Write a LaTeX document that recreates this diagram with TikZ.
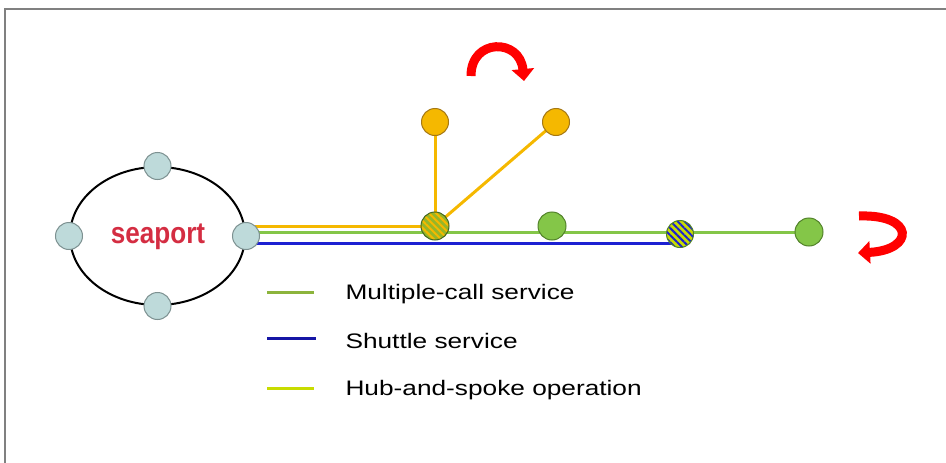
\documentclass[tikz,border=0pt]{standalone}
\usepackage{fontspec}
\setmainfont{Liberation Sans}
\usetikzlibrary{arrows.meta,patterns.meta,backgrounds,shapes.geometric}

\definecolor{portfill}{RGB}{190,218,218}
\definecolor{portedge}{RGB}{125,145,145}
\definecolor{amber}{RGB}{245,184,0}
\definecolor{amberedge}{RGB}{165,120,20}
\definecolor{leaf}{RGB}{132,198,72}
\definecolor{leafedge}{RGB}{82,130,42}
\definecolor{olive}{RGB}{150,182,40}
\definecolor{navy}{RGB}{28,32,210}
\definecolor{lime}{RGB}{200,220,0}
\definecolor{portred}{RGB}{212,45,66}
\definecolor{legendgreen}{RGB}{140,180,60}
\definecolor{legendblue}{RGB}{22,22,165}
\definecolor{framegray}{RGB}{128,128,128}

\begin{document}
\begin{tikzpicture}[x=1pt,y=-1pt,
  port/.style={circle,draw=portedge,line width=1pt,fill=portfill,
    minimum size=27pt,inner sep=0pt},
  stopnode/.style={circle,draw=leafedge,line width=1pt,fill=leaf,
    minimum size=28pt,inner sep=0pt},
  feeder/.style={circle,draw=amberedge,line width=1pt,fill=amber,
    minimum size=27pt,inner sep=0pt},
  stripes/.style={pattern={Lines[angle=-45,distance=5pt,line width=2pt]}},
  route/.style={line width=3pt},
  turn/.style={red,line width=9pt,-{Triangle[length=12pt,width=22pt]}},
  legtext/.style={anchor=base west,font=\fontsize{21}{24}\selectfont}]

\useasboundingbox (0,0) rectangle (946,463);

% frame
\draw[framegray,line width=2pt] (5,463) -- (5,9) -- (946,9);

% seaport with its four terminals
\node[ellipse,draw,line width=2pt,minimum width=175pt,minimum height=138pt,
  inner sep=0pt] (harbour) at (157.5,236) {};
\node[port] (pw) at (harbour.west) {};
\node[port] (pe) at (harbour.east) {};
\node[port] (pn) at (harbour.north) {};
\node[port] (ps) at (harbour.south) {};
\node[anchor=base,text=portred,font=\bfseries\fontsize{30}{32}\selectfont]
  (portname) at (158,243) {\scalebox{0.87}[1]{seaport}};

% ports of call
\node[circle,draw=leafedge!80!black,line width=1pt,minimum size=28pt,inner sep=0pt,
  preaction={fill=olive},stripes,pattern color=amber] (hub) at (435,226) {};
\node[stopnode] (g2) at (552,226) {};
\node[circle,draw=leafedge,line width=1pt,minimum size=27pt,inner sep=0pt,
  preaction={fill=lime},stripes,pattern color=navy] (hatch) at (680,234) {};
\node[stopnode] (g3) at (809,232) {};
\node[feeder] (o1) at (435,122) {};
\node[feeder] (o2) at (556,122) {};

% services
\begin{pgfonlayer}{background}
  \draw[route,amber] (pe.center |- hub.center) -- (hub.center);
  \draw[route,amber] (hub.center) -- (o1.center);
  \draw[route,amber] (hub.center) -- (o2.center);
  \draw[route,leaf] (pe.center |- g3.center) -- (g3.center);
  \coordinate (bluestart) at ([yshift=-7pt]pe.center);
  \draw[route,navy] (bluestart) -- (hatch.center |- bluestart);
\end{pgfonlayer}

% turning arrows
\coordinate (topA) at (471,76);
\coordinate (topB) at (524,81);
\draw[turn] (topA) .. controls (471,38) and (520,38) .. (topB);
\coordinate (endA) at (859,216);
\coordinate (endB) at (858,253);
\draw[turn] (endA) .. controls (915,214) and (915,250) .. (endB);

% legend
\coordinate (l1a) at (267,292); \coordinate (l1b) at (314,292);
\coordinate (l2a) at (267,338); \coordinate (l2b) at (316,338);
\coordinate (l3a) at (267,388); \coordinate (l3b) at (314,388);
\draw[line width=3pt,legendgreen] (l1a) -- (l1b);
\draw[line width=3pt,legendblue] (l2a) -- (l2b);
\draw[line width=3pt,lime] (l3a) -- (l3b);
\node[legtext] (t1) at (342,299) {\scalebox{1.25}[1]{Multiple-call service}};
\node[legtext] (t2) at (342,348) {\scalebox{1.25}[1]{Shuttle service}};
\node[legtext] (t3) at (342,395) {\scalebox{1.25}[1]{Hub-and-spoke operation}};
\end{tikzpicture}
\end{document}
